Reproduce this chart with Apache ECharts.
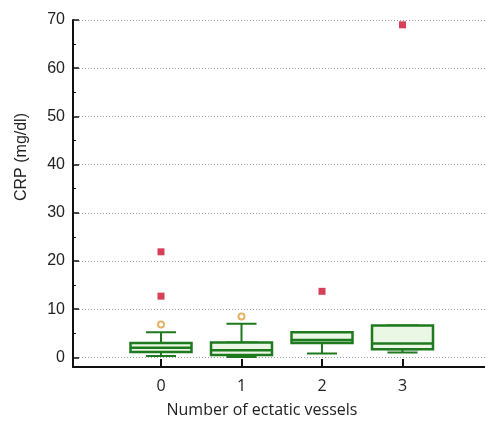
<!DOCTYPE html>
<html>
<head>
<meta charset="utf-8">
<script src="https://cdn.jsdelivr.net/npm/echarts@6/dist/echarts.min.js"></script>
<style>html,body{margin:0;padding:0;background:#fff}#c{width:485px;height:425px}</style>
</head>
<body>
<div id="c"></div>
<script>
var categories = ['0', '1', '2', '3'];
var categoryPositions = [0, 1, 2, 3];
// [min, Q1, median, Q3, max]
var boxStats = [
  [0.3, 1.1, 2.0, 3.0, 5.2],
  [0.1, 0.5, 1.5, 3.1, 7.0],
  [0.8, 3.0, 3.6, 5.2, 5.2],
  [1.0, 1.7, 2.9, 6.6, 6.6]
];
var extremeOutliers = [[0, 21.9], [0, 12.7], [2, 13.7], [3, 69.0]];
var mildOutliers = [[0, 6.8], [1, 8.5]];
var yTicks = [0, 10, 20, 30, 40, 50, 60, 70];
var yMinorTicks = [5, 15, 25, 35, 45, 55, 65];
var xTitle = 'Number of ectatic vessels';
var yTitle = 'CRP (mg/dl)';

var boxBodies = boxStats.map(function (d) { return [d[1], d[1], d[2], d[3], d[3]]; });

var chart = echarts.init(document.getElementById('c'), null, {renderer: 'canvas'});
var labelFont = {fontFamily: 'Liberation Sans', fontSize: 16, color: '#222'};
var boxGrid = {left: 120.75, width: 322, top: 20, bottom: 58};
chart.setOption({
  animation: false,
  grid: [
    {left: 73, right: 0, top: 20, bottom: 58},
    boxGrid,
    Object.assign({}, boxGrid)
  ],
  xAxis: [
    {type: 'value', gridIndex: 0, min: -1.0932, max: 4.025,
     axisLine: {show: true, onZero: false, lineStyle: {color: '#111', width: 2}},
     axisTick: {show: true, inside: true, length: 8, customValues: categoryPositions, lineStyle: {color: '#111', width: 2}},
     axisLabel: {show: false}, splitLine: {show: false}},
    {type: 'category', gridIndex: 1, data: categories, boundaryGap: true,
     axisLine: {show: false, onZero: false},
     axisTick: {show: false},
     axisLabel: {margin: 11, fontFamily: 'Open Sans', fontSize: 16, color: '#222'},
     splitLine: {show: false}},
    {type: 'category', gridIndex: 2, data: categories, boundaryGap: true, show: false}
  ],
  yAxis: [
    {type: 'value', gridIndex: 0, min: -2, max: 70, position: 'left',
     axisLine: {show: true, onZero: false, lineStyle: {color: '#111', width: 2}},
     axisTick: {show: true, inside: true, length: 6, customValues: yTicks, lineStyle: {color: '#111', width: 1.5}},
     axisLabel: Object.assign({customValues: yTicks, margin: 8}, labelFont),
     splitLine: {show: true, lineStyle: {color: '#9a9a9a', width: 1, type: [1, 2]}}},
    {type: 'value', gridIndex: 1, min: -2, max: 70, show: false},
    {type: 'value', gridIndex: 0, min: -2, max: 70, position: 'left', offset: 0,
     axisLine: {show: false, onZero: false},
     axisTick: {show: true, inside: true, length: 3, customValues: yMinorTicks, lineStyle: {color: '#111', width: 1}},
     axisLabel: {show: false}, splitLine: {show: false}},
    {type: 'value', gridIndex: 2, min: -2, max: 70, show: false}
  ],
  series: [
    {type: 'boxplot', xAxisIndex: 2, yAxisIndex: 3, data: boxStats, boxWidth: [30, 30], z: 2,
     itemStyle: {color: '#eaf7e4', borderColor: '#1f7a1f', borderWidth: 2}},
    {type: 'boxplot', xAxisIndex: 1, yAxisIndex: 1, data: boxBodies, boxWidth: [61, 61], z: 3,
     itemStyle: {color: '#eaf7e4', borderColor: '#1f7a1f', borderWidth: 2.5}},
    {type: 'scatter', xAxisIndex: 1, yAxisIndex: 1, data: mildOutliers, symbol: 'emptyCircle', symbolSize: 6, z: 4,
     itemStyle: {color: '#e0a040', borderColor: '#e0a040', borderWidth: 1.5}},
    {type: 'scatter', xAxisIndex: 1, yAxisIndex: 1, data: extremeOutliers, symbol: 'rect', symbolSize: 7, z: 4,
     itemStyle: {color: '#cc1030'}}
  ],
  graphic: [
    {type: 'text', x: 262, y: 410, style: {text: xTitle, font: '16px "Open Sans"', fill: '#222', textAlign: 'center', textVerticalAlign: 'middle'}},
    {type: 'text', x: 22, y: 157, rotation: Math.PI / 2, style: {text: yTitle, font: '16px "Liberation Sans"', fill: '#222', textAlign: 'center', textVerticalAlign: 'middle'}}
  ]
});
</script>
</body>
</html>
